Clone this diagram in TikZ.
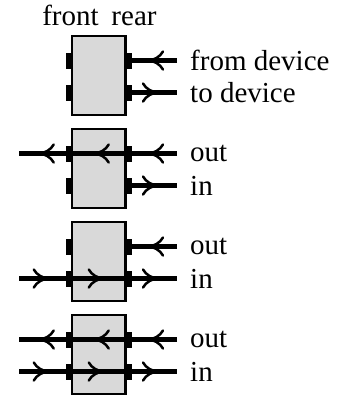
\documentclass[tikz,border=0pt]{standalone}
\usepackage{fontspec}
\setmainfont{Liberation Serif}
\usetikzlibrary{decorations.markings}
\definecolor{boxgray}{gray}{0.85}
\tikzset{
  unitbox/.style={draw=black, fill=boxgray, line width=2.3pt, minimum width=53.4pt,
    minimum height=78.7pt, inner sep=0pt, outer sep=0pt},
  portblk/.style={fill=black, minimum width=5.5pt, minimum height=16pt, inner sep=0pt, outer sep=0pt},
  lbl/.style={anchor=west, inner sep=0pt, font=\fontsize{29}{33}\selectfont},
  toplbl/.style={anchor=base, inner sep=0pt, font=\fontsize{29}{33}\selectfont},
  barb/.style={line width=2.5pt, line cap=round, line join=miter},
  wire/.style={line width=4.3pt, postaction={decorate}, decoration={markings,
    mark=at position 0.5 with {\draw[barb] (-10pt,9pt) .. controls (-7pt,3.5pt) and (-1pt,0.5pt) .. (4.5pt,0pt)
      .. controls (-1pt,-0.5pt) and (-7pt,-3.5pt) .. (-10pt,-9pt);}}},
}
\begin{document}
\begin{tikzpicture}[x=1pt,y=-1pt]
\useasboundingbox (0,0) rectangle (337,397);
\foreach \i/\c in {1/75.5,2/168.5,3/261.5,4/354.5}{
  \node[unitbox] (b\i) at (98.85,\c) {};
  \node[portblk] (lo\i) at (68.5,\c-15) {};
  \node[portblk] (li\i) at (68.5,\c+17) {};
  \node[portblk] (ro\i) at (129,\c-15) {};
  \node[portblk] (ri\i) at (129,\c+17) {};
  \coordinate (ero\i) at (177,\c-15);
  \coordinate (eri\i) at (177,\c+17);
  \coordinate (elo\i) at (19,\c-15);
  \coordinate (eli\i) at (19,\c+17);
}
\node[toplbl] (front) at (70.5,25) {front};
\node[toplbl] (rear) at (134,25) {rear};
\node[lbl] (t1o) at (190,60.5) {from device};
\node[lbl] (t1i) at (190,92.5) {to device};
\node[lbl] (t2o) at (190,153.5) {out};
\node[lbl] (t2i) at (190,185.5) {in};
\node[lbl] (t3o) at (190,246.5) {out};
\node[lbl] (t3i) at (190,278.5) {in};
\node[lbl] (t4o) at (190,339.5) {out};
\node[lbl] (t4i) at (190,371.5) {in};
% box 1
\draw[wire] (ero1) -- (ro1.center);
\draw[wire] (ri1.center) -- (eri1);
% box 2
\draw[wire] (ero2) -- (ro2.center);
\draw[wire] (ro2.center) -- (lo2.center);
\draw[wire] (lo2.center) -- (elo2);
\draw[wire] (ri2.center) -- (eri2);
% box 3
\draw[wire] (ero3) -- (ro3.center);
\draw[wire] (eli3) -- (li3.center);
\draw[wire] (li3.center) -- (ri3.center);
\draw[wire] (ri3.center) -- (eri3);
% box 4
\draw[wire] (ero4) -- (ro4.center);
\draw[wire] (ro4.center) -- (lo4.center);
\draw[wire] (lo4.center) -- (elo4);
\draw[wire] (eli4) -- (li4.center);
\draw[wire] (li4.center) -- (ri4.center);
\draw[wire] (ri4.center) -- (eri4);
\end{tikzpicture}
\end{document}
